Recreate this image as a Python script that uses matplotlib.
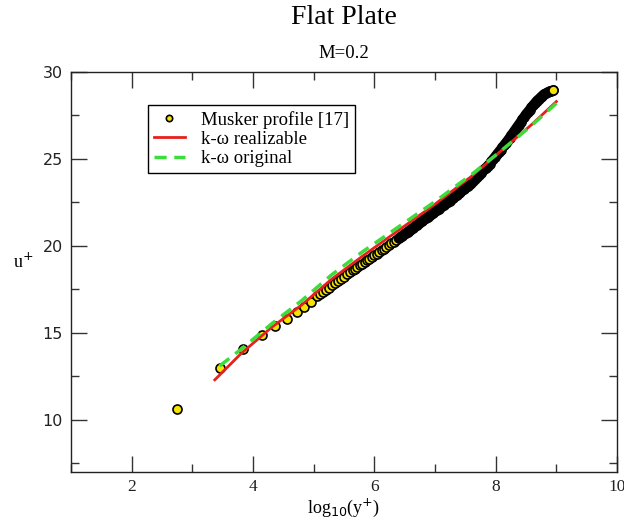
import matplotlib
matplotlib.use("Agg")
import matplotlib.pyplot as plt
from matplotlib.ticker import MultipleLocator

# Musker profile [17] (log10(y+), u+)
musker_x = [2.745, 3.45, 3.83, 4.14, 4.37, 4.56, 4.72, 4.84, 4.95, 5.05,
            5.10, 5.15, 5.20, 5.25, 5.30, 5.35, 5.40, 5.45, 5.50, 5.55, 5.60,
            5.64, 5.68, 5.72, 5.76, 5.80, 5.84, 5.88, 5.92, 5.96, 6.00,
            6.04, 6.08, 6.12, 6.16, 6.20, 6.24, 6.28, 6.32, 6.36, 6.40,
            6.43, 6.46, 6.49, 6.52, 6.55, 6.58, 6.61, 6.64, 6.67, 6.70,
            6.73, 6.76, 6.79, 6.82, 6.85, 6.88, 6.91, 6.94, 6.97, 7.00,
            7.03, 7.06, 7.09, 7.12, 7.15, 7.18, 7.21, 7.24, 7.27, 7.30,
            7.33, 7.36, 7.39, 7.42, 7.45, 7.48, 7.51, 7.54, 7.57, 7.60,
            7.63, 7.66, 7.69, 7.72, 7.75, 7.78, 7.81, 7.84, 7.87, 7.90,
            7.93, 7.96, 7.99, 8.02, 8.05, 8.08, 8.11, 8.14, 8.17, 8.20,
            8.23, 8.26, 8.29, 8.32, 8.35, 8.38, 8.41, 8.44, 8.47, 8.50,
            8.53, 8.56, 8.59, 8.62, 8.65, 8.68, 8.71, 8.74, 8.77, 8.80,
            8.83, 8.86, 8.89, 8.92, 8.95]
musker_u = [10.6, 13.0, 14.1, 14.9, 15.4, 15.8, 16.2, 16.5, 16.8, 17.1,
            17.22, 17.35, 17.48, 17.60, 17.73, 17.85, 17.98, 18.10, 18.23, 18.36, 18.50,
            18.60, 18.70, 18.79, 18.88, 18.98, 19.08, 19.17, 19.27, 19.36, 19.46,
            19.56, 19.66, 19.75, 19.85, 19.95, 20.04, 20.14, 20.23, 20.33, 20.43,
            20.51, 20.59, 20.66, 20.74, 20.82, 20.90, 20.98, 21.05, 21.13, 21.21,
            21.29, 21.37, 21.44, 21.52, 21.60, 21.68, 21.76, 21.83, 21.91, 21.99,
            22.07, 22.15, 22.22, 22.30, 22.38, 22.46, 22.54, 22.61, 22.69, 22.77,
            22.86, 22.94, 23.03, 23.12, 23.20, 23.29, 23.38, 23.46, 23.55, 23.64,
            23.75, 23.86, 23.96, 24.07, 24.18, 24.29, 24.40, 24.50, 24.61, 24.72,
            24.86, 24.99, 25.13, 25.26, 25.40, 25.53, 25.67, 25.80, 25.94, 26.07,
            26.22, 26.37, 26.52, 26.67, 26.82, 26.97, 27.12, 27.27, 27.42, 27.57,
            27.70, 27.83, 27.96, 28.09, 28.22, 28.35, 28.44, 28.54, 28.64, 28.73,
            28.78, 28.84, 28.89, 28.92, 28.94]

# k-omega realizable
real_x = [3.37, 3.8, 4.3, 4.8, 5.3, 5.8, 6.4, 7.0, 7.6, 8.1, 8.6, 9.0]
real_u = [12.3, 13.8, 15.3, 16.6, 18.1, 19.4, 20.9, 22.4, 24.0, 25.5, 27.0, 28.3]

# k-omega original
orig_x = [3.45, 3.8, 4.3, 4.8, 5.3, 5.8, 6.4, 7.0, 7.6, 8.1, 8.6, 9.0]
orig_u = [13.1, 14.05, 15.5, 16.85, 18.35, 19.65, 21.1, 22.55, 24.1, 25.5, 26.95, 28.2]

serif = "Liberation Serif"

fig = plt.figure(figsize=(6.24, 5.23), dpi=100)
ax = fig.add_axes([0.1138, 0.0975, 0.875, 0.7648])

ax.plot(musker_x, musker_u, linestyle="none", marker="o", ms=6.5,
        mfc="#f5e400", mec="black", mew=1.2, label="Musker profile [17]")
# densely packed points merge into a black band
ax.plot(musker_x[40:-1], musker_u[40:-1], color="black", lw=7.2,
        solid_capstyle="round")
ax.plot(musker_x[-1:], musker_u[-1:], linestyle="none", marker="o", ms=6.5,
        mfc="#f5e400", mec="black", mew=1.2)
ax.plot(real_x, real_u, color="#e8201c", lw=2, label="k-ω realizable")
ax.plot(orig_x, orig_u, color="#3cdc3c", lw=2.5, dashes=(3.5, 2.2),
        label="k-ω original")

ax.set_xlim(1, 10)
ax.set_ylim(7, 30)
ax.xaxis.set_major_locator(MultipleLocator(2))
ax.xaxis.set_minor_locator(MultipleLocator(1))
ax.yaxis.set_major_locator(MultipleLocator(5))
ax.yaxis.set_minor_locator(MultipleLocator(2.5))
ax.tick_params(which="both", direction="in", top=True, right=True,
               color="#333333", width=1)
ax.tick_params(which="major", length=11.5)
ax.tick_params(which="minor", length=5.8)
ax.tick_params(axis="y", labelsize=11.5, labelcolor="#222222", pad=6)
ax.tick_params(axis="x", labelsize=12.5, labelcolor="#222222", pad=5,
               labelfontfamily=serif)
for sp in ax.spines.values():
    sp.set_linewidth(1)
    sp.set_color("#222222")

ax.set_xlabel("log$_{10}$(y$^{+}$)", fontsize=13, family=serif, labelpad=1)
ax.set_ylabel("u$^{+}$", fontsize=13, family=serif, rotation=0, labelpad=14)

fig.text(0.551, 0.967, "Flat Plate", ha="center", va="center",
         fontsize=20, family=serif)
fig.text(0.551, 0.898, "M=0.2", ha="center", va="center",
         fontsize=13.5, family=serif)

leg = ax.legend(loc="upper left", bbox_to_anchor=(0.141, 0.9175),
                prop={"family": serif, "size": 13.5}, frameon=True,
                fancybox=False, framealpha=1, edgecolor="black",
                borderpad=0.3, labelspacing=0.12, handlelength=1.65,
                handletextpad=0.9, borderaxespad=0, markerscale=0.7)
leg.get_frame().set_linewidth(1)

fig.savefig("out.png", dpi=100)
